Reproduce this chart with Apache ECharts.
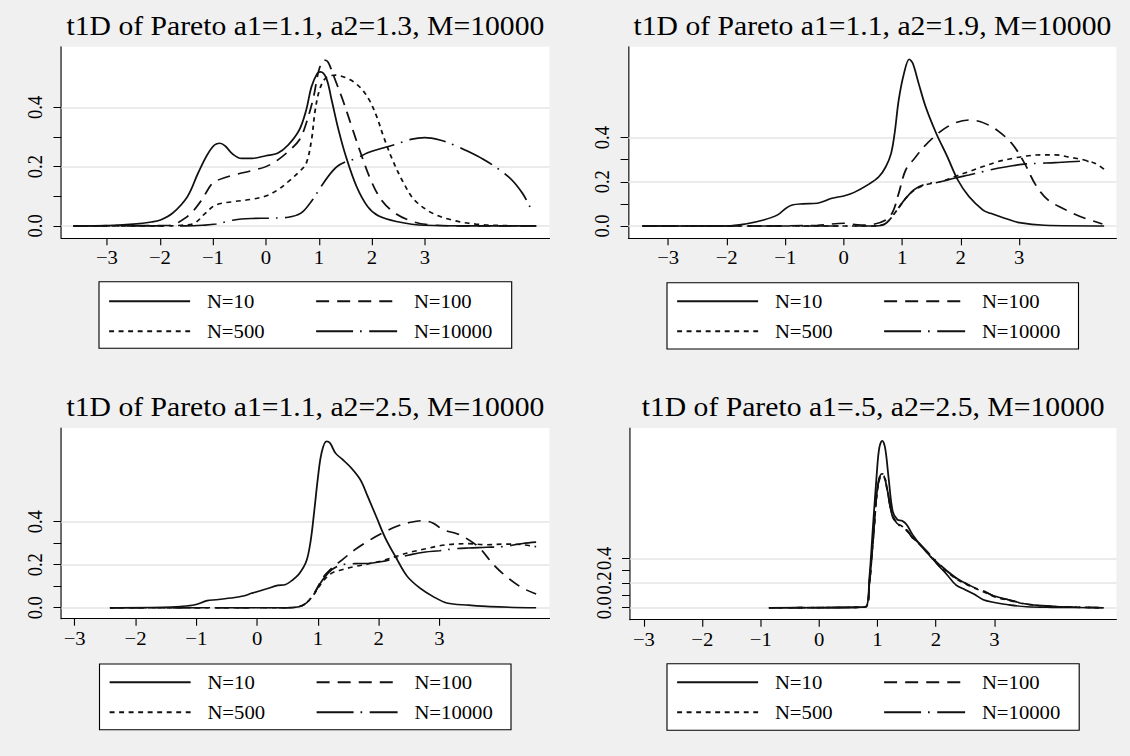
<!DOCTYPE html>
<html>
<head>
<meta charset="utf-8">
<title>t1D of Pareto</title>
<script src="https://cdn.jsdelivr.net/npm/echarts@6/dist/echarts.min.js"></script>
<style>
  html, body { margin: 0; padding: 0; background: #f0f0f0; overflow: hidden; }
  #wrap { width: 1130px; height: 756px; overflow: hidden; }
  /* the chart is laid out on a narrower canvas and widened, giving the wide serif lettering */
  #chart { width: 1009px; height: 756px; transform: scaleX(1.11992); transform-origin: 0 0; }
</style>
</head>
<body>
<div id="wrap"><div id="chart"></div></div>
<script>
// ---------- data ----------
const titles = [
  't1D of Pareto a1=1.1, a2=1.3, M=10000',
  't1D of Pareto a1=1.1, a2=1.9, M=10000',
  't1D of Pareto a1=1.1, a2=2.5, M=10000',
  't1D of Pareto a1=.5, a2=2.5, M=10000'
];
const seriesNames = ['N=10', 'N=100', 'N=500', 'N=10000'];
const xTicks = [-3, -2, -1, 0, 1, 2, 3];
const yTicks = [0, 0.1, 0.2, 0.3, 0.4];
const yLabels = [0, 0.2, 0.4];

// a1=1.1, a2=1.3
const p1N10 = [[-3.63,0],[-2.98,0.001],[-2.5,0.006],[-2.16,0.013],[-1.99,0.02],[-1.76,0.043],[-1.48,0.099],[-1.28,0.178],[-1.11,0.239],[-0.97,0.273],[-0.87,0.279],[-0.77,0.27],[-0.63,0.243],[-0.46,0.228],[-0.26,0.228],[0,0.237],[0.22,0.245],[0.42,0.273],[0.63,0.324],[0.76,0.391],[0.86,0.47],[0.97,0.515],[1.03,0.52],[1.14,0.498],[1.24,0.425],[1.37,0.324],[1.51,0.234],[1.71,0.133],[1.92,0.065],[2.12,0.034],[2.46,0.015],[3.0,0.002],[3.82,0],[5.1,0]];
const p1N100 = [[-3.63,0],[-2.5,0.001],[-1.9,0.001],[-1.76,0.003],[-1.62,0.015],[-1.41,0.043],[-1.21,0.088],[-1.01,0.144],[-0.87,0.157],[-0.6,0.172],[-0.26,0.187],[0,0.2],[0.22,0.222],[0.42,0.251],[0.63,0.29],[0.76,0.346],[0.9,0.436],[1.0,0.526],[1.1,0.56],[1.17,0.554],[1.27,0.51],[1.44,0.43],[1.61,0.34],[1.78,0.25],[1.99,0.15],[2.19,0.085],[2.46,0.04],[2.8,0.013],[3.14,0.003],[3.82,0],[5.1,0]];
const p1N500 = [[-3.63,0],[-2,0],[-1.6,0.002],[-1.35,0.009],[-1.14,0.043],[-0.94,0.071],[-0.6,0.082],[-0.26,0.09],[0,0.101],[0.22,0.121],[0.42,0.149],[0.63,0.183],[0.76,0.211],[0.86,0.29],[0.93,0.391],[1.02,0.464],[1.14,0.501],[1.31,0.509],[1.58,0.494],[1.78,0.467],[1.95,0.425],[2.09,0.369],[2.22,0.301],[2.39,0.222],[2.6,0.144],[2.8,0.088],[3.14,0.043],[3.55,0.018],[3.96,0.006],[4.5,0.001],[5.1,0]];
const p1N10000 = [[-3.63,0],[-1.5,0],[-1.2,0.002],[-0.94,0.006],[-0.6,0.02],[-0.26,0.025],[0.08,0.026],[0.42,0.029],[0.66,0.043],[0.83,0.076],[1.0,0.121],[1.17,0.166],[1.34,0.2],[1.51,0.217],[1.71,0.228],[1.92,0.247],[2.19,0.262],[2.46,0.276],[2.73,0.292],[3.0,0.298],[3.28,0.29],[3.55,0.273],[3.82,0.251],[4.1,0.225],[4.37,0.194],[4.64,0.155],[4.84,0.11],[4.98,0.065],[5.05,0.048]];

// a1=1.1, a2=1.9
const p2N10 = [[-3.44,0],[-1.99,0],[-1.68,0.009],[-1.37,0.027],[-1.13,0.05],[-0.99,0.08],[-0.88,0.095],[-0.7,0.1],[-0.45,0.103],[-0.2,0.125],[0,0.136],[0.17,0.151],[0.41,0.186],[0.6,0.223],[0.72,0.269],[0.81,0.329],[0.87,0.42],[0.94,0.571],[1.03,0.691],[1.12,0.755],[1.18,0.737],[1.28,0.646],[1.4,0.54],[1.58,0.42],[1.77,0.314],[1.95,0.208],[2.14,0.133],[2.38,0.072],[2.51,0.057],[2.75,0.035],[3.0,0.015],[3.43,0.003],[4.45,0]];
const p2N100 = [[-3.44,0],[-1.5,0],[-0.45,0.003],[0,0.012],[0.3,0.004],[0.47,0.006],[0.72,0.027],[0.84,0.065],[0.94,0.148],[1.06,0.254],[1.21,0.306],[1.4,0.367],[1.65,0.427],[1.89,0.465],[2.14,0.48],[2.38,0.468],[2.63,0.432],[2.88,0.371],[3.09,0.284],[3.28,0.186],[3.49,0.118],[3.74,0.08],[4.05,0.042],[4.42,0.009]];
const p2N500 = [[-3.44,0],[0.5,0],[0.66,0.005],[0.78,0.027],[0.91,0.072],[1.06,0.125],[1.21,0.163],[1.4,0.186],[1.65,0.2],[1.89,0.223],[2.14,0.246],[2.38,0.269],[2.63,0.291],[2.88,0.306],[3.12,0.317],[3.37,0.322],[3.62,0.322],[3.86,0.311],[4.11,0.299],[4.29,0.284],[4.45,0.257]];
const p2N10000 = [[-3.44,0],[0.5,0],[0.66,0.003],[0.78,0.027],[0.91,0.072],[1.06,0.125],[1.21,0.166],[1.4,0.19],[1.65,0.2],[1.89,0.216],[2.14,0.231],[2.38,0.246],[2.63,0.261],[2.88,0.273],[3.12,0.281],[3.37,0.284],[3.62,0.287],[3.86,0.291],[4.11,0.293],[4.29,0.291]];

// a1=1.1, a2=2.5
const p3N10 = [[-2.42,0],[-1.56,0.002],[-1.26,0.006],[-1.02,0.014],[-0.82,0.033],[-0.67,0.037],[-0.43,0.045],[-0.25,0.053],[-0.08,0.068],[0.16,0.088],[0.34,0.104],[0.46,0.107],[0.57,0.126],[0.69,0.157],[0.81,0.216],[0.88,0.309],[0.94,0.448],[1.0,0.603],[1.06,0.719],[1.14,0.774],[1.2,0.766],[1.29,0.719],[1.4,0.691],[1.55,0.65],[1.7,0.595],[1.82,0.518],[1.97,0.417],[2.11,0.324],[2.29,0.231],[2.47,0.146],[2.68,0.091],[2.89,0.053],[3.12,0.022],[3.48,0.012],[3.83,0.005],[4.59,0]];
const p3N100 = [[-2.42,0],[0.5,0],[0.69,0.005],[0.81,0.022],[0.93,0.06],[1.08,0.138],[1.23,0.184],[1.4,0.223],[1.61,0.27],[1.82,0.309],[2.06,0.347],[2.29,0.378],[2.53,0.398],[2.71,0.405],[2.89,0.394],[3.06,0.363],[3.3,0.343],[3.48,0.316],[3.66,0.278],[3.89,0.2],[4.13,0.138],[4.37,0.091],[4.59,0.064]];
const p3N500 = [[-2.42,0],[0.5,0],[0.69,0.005],[0.81,0.022],[0.93,0.06],[1.08,0.122],[1.23,0.161],[1.4,0.177],[1.61,0.192],[1.82,0.203],[2.06,0.219],[2.29,0.239],[2.53,0.259],[2.77,0.274],[3.0,0.288],[3.24,0.296],[3.48,0.298],[3.77,0.293],[4.07,0.296],[4.37,0.293],[4.59,0.284]];
const p3N10000 = [[-2.42,0],[0.5,0],[0.69,0.005],[0.81,0.022],[0.93,0.064],[1.08,0.13],[1.23,0.177],[1.4,0.2],[1.61,0.205],[1.82,0.206],[2.06,0.215],[2.29,0.231],[2.53,0.247],[2.77,0.259],[3.0,0.265],[3.24,0.274],[3.48,0.278],[3.77,0.281],[4.07,0.285],[4.37,0.299],[4.59,0.305]];

// a1=.5, a2=2.5
const p4N10 = [[-0.86,0],[-0.03,0],[0.59,0.003],[0.8,0.008],[0.86,0.24],[0.92,0.646],[0.99,1.105],[1.03,1.295],[1.08,1.354],[1.13,1.295],[1.19,1.051],[1.26,0.781],[1.34,0.714],[1.42,0.705],[1.5,0.673],[1.6,0.592],[1.73,0.511],[1.88,0.43],[2.03,0.349],[2.19,0.268],[2.34,0.186],[2.5,0.146],[2.65,0.111],[2.81,0.065],[3.0,0.043],[3.24,0.024],[3.55,0.008],[3.98,0.003],[4.87,0]];
const p4N100 = [[-0.86,0],[0.59,0.003],[0.8,0.008],[0.86,0.186],[0.94,0.646],[1.0,0.97],[1.07,1.078],[1.11,1.073],[1.17,0.943],[1.25,0.754],[1.33,0.686],[1.42,0.659],[1.51,0.624],[1.6,0.565],[1.73,0.511],[1.88,0.435],[2.03,0.362],[2.19,0.295],[2.34,0.241],[2.5,0.2],[2.65,0.165],[2.81,0.138],[3.0,0.092],[3.24,0.065],[3.55,0.03],[3.98,0.011],[4.59,0.003],[4.87,0]];
const p4N500 = [[-0.86,0],[0.59,0.003],[0.8,0.008],[0.86,0.19],[0.94,0.64],[1.0,0.96],[1.07,1.07],[1.11,1.065],[1.17,0.95],[1.25,0.76],[1.33,0.69],[1.42,0.66],[1.51,0.62],[1.6,0.57],[1.73,0.51],[1.88,0.43],[2.03,0.355],[2.19,0.29],[2.34,0.235],[2.5,0.195],[2.65,0.16],[2.81,0.13],[3.0,0.09],[3.24,0.06],[3.55,0.028],[3.98,0.01],[4.59,0.002],[4.87,0]];
const p4N10000 = [[-0.86,0],[0.59,0.003],[0.8,0.008],[0.86,0.2],[0.94,0.65],[1.0,0.975],[1.07,1.085],[1.11,1.08],[1.17,0.95],[1.25,0.75],[1.33,0.68],[1.42,0.655],[1.51,0.625],[1.6,0.57],[1.73,0.515],[1.88,0.44],[2.03,0.365],[2.19,0.3],[2.34,0.245],[2.5,0.2],[2.65,0.165],[2.81,0.135],[3.0,0.095],[3.24,0.065],[3.55,0.03],[3.98,0.012],[4.59,0.003],[4.87,0]];

const panelData = [
  [p1N10, p1N100, p1N500, p1N10000],
  [p2N10, p2N100, p2N500, p2N10000],
  [p3N10, p3N100, p3N500, p3N10000],
  [p4N10, p4N100, p4N500, p4N10000]
];

// ---------- layout (page pixels) ----------
const SX = 1130 / 1009;            // horizontal widening applied by CSS
const px = v => v / SX;            // page x -> chart x
const FONT = 'Liberation Serif, Times New Roman, serif';
const INK = '#111';

const layout = [
  { xr: [-3.86, 5.35], yr: [-0.042, 0.605], g: [61.3, 549.5, 46.7, 238.3], box: [99, 511.7, 281.7, 348.3], titleY: 26.5, rowY: 301 },
  { xr: [-3.68, 4.66], yr: [-0.056, 0.812], g: [628.4, 1116.4, 46.7, 238.3], box: [667, 1078.5, 282.7, 349], titleY: 26.5, rowY: 301 },
  { xr: [-3.22, 4.81], yr: [-0.051, 0.836], g: [61.3, 549.5, 428, 618.7], box: [99.5, 511, 664, 729.7], titleY: 407.5, rowY: 682 },
  { xr: [-3.24, 5.09], yr: [-0.097, 1.457], g: [629.9, 1116.4, 428, 619.7], box: [667, 1079.2, 663.7, 730.3], titleY: 407.5, rowY: 682 }
];

// solid, long dash, short dash, long dash-dot
const dashes = ['solid', [11.6, 7.2], [4.4, 4.1], [33, 6.2, 1.5, 6.7]];

const minus = v => (v < 0 ? '\u2212' + Math.abs(v) : String(v));

const grids = [], xAxes = [], yAxes = [], series = [], legends = [], graphics = [], titleList = [];

layout.forEach((L, p) => {
  const [gl, gr, gt, gb] = L.g;
  grids.push({
    left: px(gl), top: gt, width: px(gr - gl), height: gb - gt,
    show: true, backgroundColor: '#ffffff', borderWidth: 0
  });
  xAxes.push({
    type: 'value', gridIndex: p, min: L.xr[0], max: L.xr[1],
    axisLine: { onZero: false, lineStyle: { color: '#000', width: 1 } },
    axisTick: { customValues: xTicks, length: 7, lineStyle: { color: '#000', width: 1 } },
    axisLabel: { customValues: xTicks, formatter: minus, margin: 10, fontSize: 18.5, fontFamily: FONT, color: '#000' },
    splitLine: { show: false }
  });
  yAxes.push({
    type: 'value', gridIndex: p, min: L.yr[0], max: L.yr[1],
    axisLine: { show: true, onZero: false, lineStyle: { color: '#000', width: 1 } },
    axisTick: { show: true, customValues: yTicks, length: 7, lineStyle: { color: '#000', width: 1 } },
    axisLabel: { customValues: yLabels, formatter: v => v.toFixed(1), rotate: 90, margin: 14, fontSize: 18.5, fontFamily: FONT, color: '#000', hideOverlap: false },
    splitLine: { show: false }
  });

  panelData[p].forEach((d, i) => {
    const s = {
      name: seriesNames[i], type: 'line', xAxisIndex: p, yAxisIndex: p,
      data: d, symbol: 'none', smooth: 0.35, z: 3,
      itemStyle: { color: INK },
      lineStyle: { color: INK, width: 1.6, type: dashes[i] },
      emphasis: { disabled: true }, silent: true
    };
    if (i === 0) {
      s.markLine = {
        z: 1, silent: true, symbol: 'none', label: { show: false },
        lineStyle: { color: '#e4e4e4', width: 1.5, type: 'solid' },
        data: yLabels.map(v => ({ yAxis: v }))
      };
    }
    series.push(s);
  });

  // panel title, centred over the plot
  titleList.push({
    text: titles[p], left: px((gl + gr) / 2), top: L.titleY, padding: 0,
    textAlign: 'center', textVerticalAlign: 'middle',
    textStyle: { fontFamily: FONT, fontSize: 26.5, fontWeight: 'normal', color: '#000' }
  });

  // legend frame
  const [bl, br, bt, bb] = L.box;
  graphics.push({
    type: 'rect', z: 1,
    shape: { x: px(bl), y: bt, width: px(br - bl), height: bb - bt },
    style: { fill: '#ffffff', stroke: '#000', lineWidth: 1 }
  });
  // two legend columns, line keys only
  const legendBase = {
    orient: 'vertical', padding: 0, itemWidth: px(81), itemHeight: 12, itemGap: 11,
    selectedMode: false, z: 5,
    itemStyle: { opacity: 0 },
    textStyle: { fontFamily: FONT, fontSize: 18.5, color: '#000', padding: [0, 0, 0, 10] }
  };
  legends.push(Object.assign({}, legendBase, { data: [seriesNames[0], seriesNames[2]], left: px(bl + 9), top: L.rowY - 9.25 }));
  legends.push(Object.assign({}, legendBase, { data: [seriesNames[1], seriesNames[3]], left: px(bl + 216), top: L.rowY - 9.25 }));
});

const chart = echarts.init(document.getElementById('chart'), null, { renderer: 'svg' });
chart.setOption({
  animation: false,
  backgroundColor: '#f0f0f0',
  textStyle: { fontFamily: FONT },
  title: titleList,
  grid: grids,
  xAxis: xAxes,
  yAxis: yAxes,
  legend: legends,
  graphic: graphics,
  series: series
});
</script>
</body>
</html>
